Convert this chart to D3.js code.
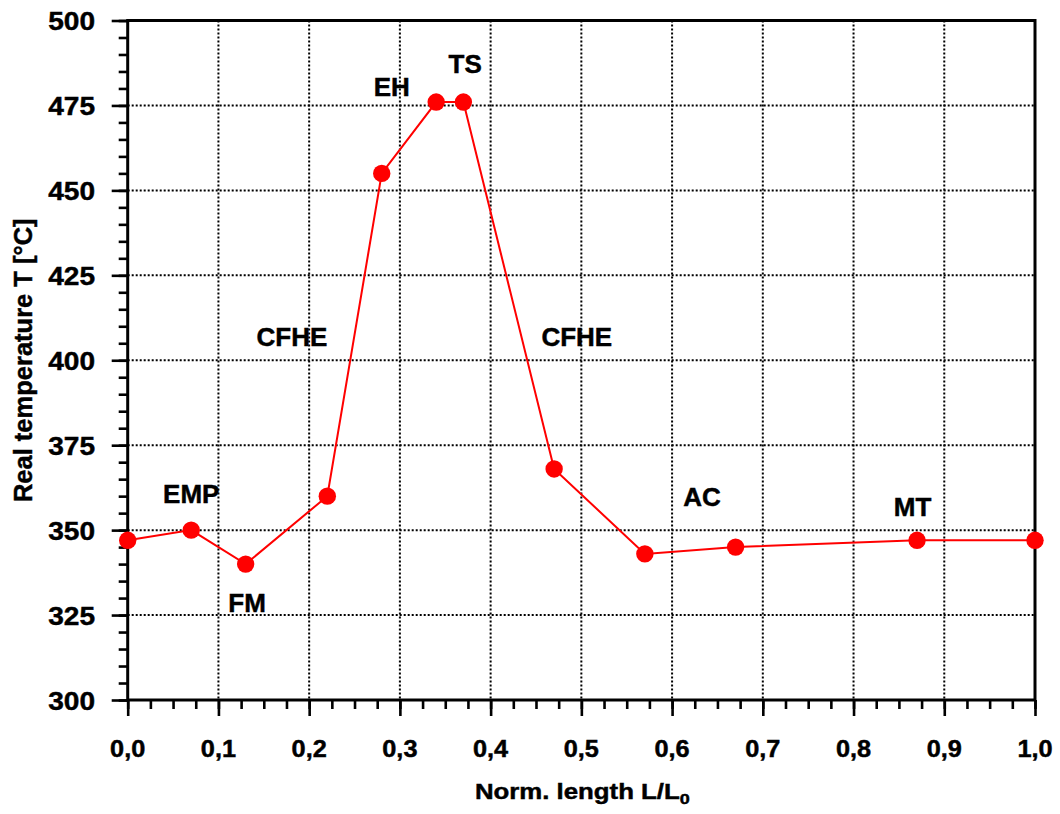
<!DOCTYPE html>
<html>
<head>
<meta charset="utf-8">
<script src="https://cdn.jsdelivr.net/npm/d3@7/dist/d3.min.js"></script>
<style>
  html, body { margin: 0; padding: 0; background: #fff; }
  svg { display: block; }
  text { font-family: "Liberation Sans", Arial, sans-serif; font-weight: bold; fill: #000; stroke: #000; stroke-width: 0.45px; }
</style>
</head>
<body>
<svg id="chart" width="1060" height="814"></svg>
<script>
// Normalised length positions and measured temperatures
const lengths = [0.00, 0.07, 0.13, 0.22, 0.28, 0.34, 0.37, 0.47, 0.57, 0.67, 0.87, 1.00];
const temps   = [347, 350, 340, 360, 455, 476, 476, 368, 343, 345, 347, 347];

// Zone labels (x in L/L0, y in °C at the text baseline)
const zoneNames = ["EMP", "FM", "CFHE", "EH", "TS", "CFHE", "AC", "MT"];
const zoneX     = [0.070, 0.1315, 0.181, 0.291, 0.372, 0.495, 0.633, 0.865];
const zoneY     = [358, 326, 404.2, 477.8, 484.5, 404.2, 357.1, 354.2];

// Tick values
const xTicks = [0, 0.1, 0.2, 0.3, 0.4, 0.5, 0.6, 0.7, 0.8, 0.9, 1.0];
const yTicks = [300, 325, 350, 375, 400, 425, 450, 475, 500];
const xMinor = d3.range(0, 1.0001, 0.025);
const yMinor = d3.range(300, 500.001, 5);

const svg = d3.select("#chart");
const plotL = 127.7, plotR = 1035, plotT = 20.5, plotB = 700;

const x = d3.scaleLinear().domain([0, 1]).range([plotL, plotR]);
const y = d3.scaleLinear().domain([300, 500]).range([plotB, plotT]);

const fmt = v => d3.format(".1f")(v).replace(".", ",");

// Stretched bold text helper
function label(g, txt, px, py, size, sx, anchor) {
  return g.append("text")
    .attr("transform", `translate(${px},${py}) scale(${sx},1)`)
    .attr("text-anchor", anchor || "middle")
    .style("font-size", size + "px")
    .text(txt);
}

// Dotted grid at the major ticks
const grid = svg.append("g");
grid.selectAll("line.gx").data(xTicks.filter(v => v > 0 && v < 1)).enter()
  .append("line")
  .attr("x1", d => x(d)).attr("x2", d => x(d))
  .attr("y1", plotT).attr("y2", plotB)
  .attr("stroke", "#000").attr("stroke-width", 2).attr("stroke-dasharray", "2,2");
grid.selectAll("line.gy").data(yTicks.filter(v => v > 300 && v < 500)).enter()
  .append("line")
  .attr("x1", plotL).attr("x2", plotR)
  .attr("y1", d => y(d)).attr("y2", d => y(d))
  .attr("stroke", "#000").attr("stroke-width", 2).attr("stroke-dasharray", "2,2");

// Axes: minor and major ticks drawn outward
const xAxisMinor = d3.axisBottom(x).tickValues(xMinor).tickSize(9).tickFormat("");
const xAxisMajor = d3.axisBottom(x).tickValues(xTicks).tickSize(16).tickFormat("");
const yAxisMinor = d3.axisLeft(y).tickValues(yMinor).tickSize(9).tickFormat("");
const yAxisMajor = d3.axisLeft(y).tickValues(yTicks).tickSize(16).tickFormat("");

[xAxisMinor, xAxisMajor].forEach(a => {
  const g = svg.append("g").attr("transform", `translate(0,${plotB})`).call(a);
  g.select(".domain").remove();
  g.selectAll(".tick line").attr("stroke", "#000").attr("stroke-width", 2.6);
});
[yAxisMinor, yAxisMajor].forEach(a => {
  const g = svg.append("g").attr("transform", `translate(${plotL},0)`).call(a);
  g.select(".domain").remove();
  g.selectAll(".tick line").attr("stroke", "#000").attr("stroke-width", 2.6);
});

// Frame
svg.append("rect")
  .attr("x", plotL).attr("y", plotT)
  .attr("width", plotR - plotL).attr("height", plotB - plotT)
  .attr("fill", "none").attr("stroke", "#000").attr("stroke-width", 3);

// Tick labels
const tl = svg.append("g");
xTicks.forEach(v => label(tl, fmt(v), x(v), 757, 23, 1.1));
yTicks.forEach(v => label(tl, String(v), 95, y(v) + 9.5, 26, 1.08, "end"));

// Axis titles
const xt = label(svg, "", (plotL + plotR) / 2 + 1, 799, 21.5, 1.2);
xt.append("tspan").text("Norm. length L/L");
xt.append("tspan").attr("dy", 5).style("font-size", "15px").text("0");

svg.append("text")
  .attr("transform", `translate(31.5,${(plotT + plotB) / 2}) rotate(-90)`)
  .attr("text-anchor", "middle")
  .style("font-size", "25.5px")
  .text("Real temperature T [°C]");

// Temperature profile
const pts = lengths.map((l, i) => [l, temps[i]]);
svg.append("path")
  .datum(pts)
  .attr("d", d3.line().x(d => x(d[0])).y(d => y(d[1])))
  .attr("fill", "none").attr("stroke", "#ff0000").attr("stroke-width", 2);

svg.append("g").selectAll("circle").data(pts).enter()
  .append("circle")
  .attr("cx", d => x(d[0])).attr("cy", d => y(d[1]))
  .attr("r", 8.7).attr("fill", "#ff0000");

// Zone labels
const zl = svg.append("g");
zoneNames.forEach((n, i) => label(zl, n, x(zoneX[i]), y(zoneY[i]), 25, 1.04));
</script>
</body>
</html>
